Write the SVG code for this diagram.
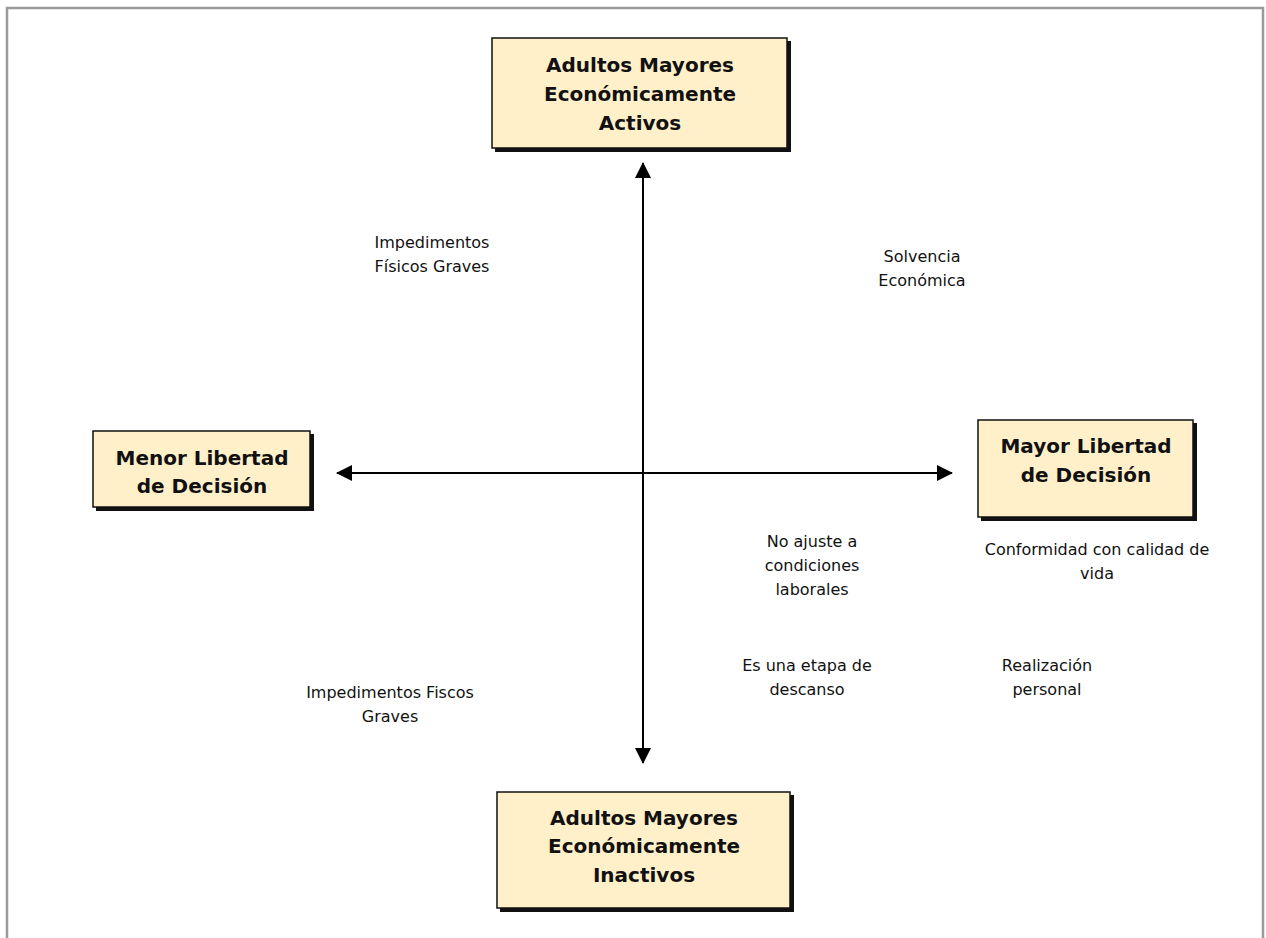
<svg xmlns="http://www.w3.org/2000/svg" width="1266" height="938" viewBox="0 0 1266 938">
<style>
.frame{fill:none;stroke:#9a9a9a;stroke-width:2.5}
.box{fill:#FFF0CA;stroke:#111;stroke-width:1.5}
.shadow{fill:#111}
.title{font-family:"DejaVu Sans",sans-serif;font-weight:bold;font-size:20px;fill:#111;text-anchor:middle}
.lbl{font-family:"DejaVu Sans",sans-serif;font-size:16px;fill:#111;text-anchor:middle}
.axis{stroke:#000;stroke-width:2;fill:none}
</style>
<defs>
<marker id="arr" viewBox="0 0 16 16" refX="15" refY="8" markerWidth="16" markerHeight="16" markerUnits="userSpaceOnUse" orient="auto-start-reverse">
<path d="M0,0 L16,8 L0,16 Z" fill="#000"/>
</marker>
</defs>
<rect width="1266" height="938" fill="#fff"/>
<path class="frame" d="M7,940 L7,8 L1263,8 L1263,940"/>
<g id="connectors">
<line class="axis" x1="643" y1="163" x2="643" y2="763" marker-start="url(#arr)" marker-end="url(#arr)"/>
<line class="axis" x1="337" y1="473" x2="952" y2="473" marker-start="url(#arr)" marker-end="url(#arr)"/>
</g>
<g id="top">
<rect class="shadow" x="495" y="41" width="296" height="111"/>
<rect class="box" x="492" y="38" width="295" height="110"/>
<text class="title" x="640" y="72">Adultos Mayores</text>
<text class="title" x="640" y="101">Económicamente</text>
<text class="title" x="640" y="130">Activos</text>
</g>
<g id="left">
<rect class="shadow" x="96" y="434" width="218" height="77"/>
<rect class="box" x="93" y="431" width="217" height="76"/>
<text class="title" x="202" y="465">Menor Libertad</text>
<text class="title" x="202" y="493">de Decisión</text>
</g>
<g id="right">
<rect class="shadow" x="981" y="423" width="216" height="98"/>
<rect class="box" x="978" y="420" width="215" height="97"/>
<text class="title" x="1086" y="453">Mayor Libertad</text>
<text class="title" x="1086" y="482">de Decisión</text>
</g>
<g id="bottom">
<rect class="shadow" x="500" y="795" width="294" height="117"/>
<rect class="box" x="497" y="792" width="293" height="116"/>
<text class="title" x="644" y="825">Adultos Mayores</text>
<text class="title" x="644" y="853">Económicamente</text>
<text class="title" x="644" y="882">Inactivos</text>
</g>
<g id="labels">
<text class="lbl" x="432" y="248">Impedimentos</text>
<text class="lbl" x="432" y="272">Físicos Graves</text>
<text class="lbl" x="922" y="262">Solvencia</text>
<text class="lbl" x="922" y="286">Económica</text>
<text class="lbl" x="812" y="547">No ajuste a</text>
<text class="lbl" x="812" y="571">condiciones</text>
<text class="lbl" x="812" y="595">laborales</text>
<text class="lbl" x="1097" y="555">Conformidad con calidad de</text>
<text class="lbl" x="1097" y="579">vida</text>
<text class="lbl" x="807" y="671">Es una etapa de</text>
<text class="lbl" x="807" y="695">descanso</text>
<text class="lbl" x="1047" y="671">Realización</text>
<text class="lbl" x="1047" y="695">personal</text>
<text class="lbl" x="390" y="698">Impedimentos Fiscos</text>
<text class="lbl" x="390" y="722">Graves</text>
</g>
</svg>
